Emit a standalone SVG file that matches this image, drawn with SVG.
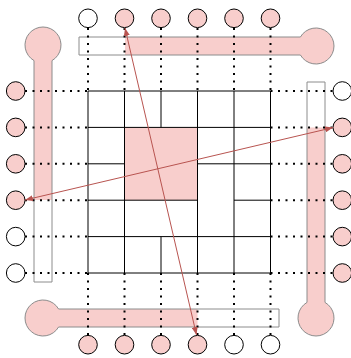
<svg xmlns="http://www.w3.org/2000/svg" width="351" height="358" viewBox="0 0 351 358">
<defs>
<style>
.band{fill:#ffffff;stroke:none}
.pk{fill:#f8cecc;stroke:none}
.ol{fill:none;stroke:#8c8c8c;stroke-width:1}
.g{stroke:#000;stroke-width:1;fill:none}
.dot{stroke:#000;stroke-width:2;stroke-dasharray:2 5.5;fill:none}
.cw{fill:#ffffff;stroke:#000;stroke-width:1}
.cp{fill:#f8cecc;stroke:#000;stroke-width:1}
.ar{stroke:#b85450;stroke-width:1;fill:none;marker-start:url(#ah);marker-end:url(#ah)}
</style>
<marker id="ah" viewBox="0 0 8 6" refX="8" refY="3" markerWidth="8" markerHeight="6" markerUnits="userSpaceOnUse" orient="auto-start-reverse">
<path d="M0,0 L8,3 L0,6 Z" fill="#b85450"/>
</marker>
</defs>
<g id="bands">
<g id="band-top">
<path class="band" d="M79,37 L300.4,37 A18,18 0 1 1 300.4,55 L79,55 Z"/>
<path class="pk" d="M125,37 L300.4,37 A18,18 0 1 1 300.4,55 L125,55 Z"/>
<path class="ol" d="M79,37 L300.4,37 A18,18 0 1 1 300.4,55 L79,55 Z"/>
</g>
<g id="band-left">
<path class="band" d="M34,282 L34,60.6 A18,18 0 1 1 52,60.6 L52,282 Z"/>
<path class="pk" d="M34,200 L34,60.6 A18,18 0 1 1 52,60.6 L52,200 Z"/>
<path class="ol" d="M34,282 L34,60.6 A18,18 0 1 1 52,60.6 L52,282 Z"/>
</g>
<g id="band-right">
<path class="band" d="M307,82 L307,302.4 A18,18 0 1 0 325,302.4 L325,82 Z"/>
<path class="pk" d="M307,127.4 L307,302.4 A18,18 0 1 0 325,302.4 L325,127.4 Z"/>
<path class="ol" d="M307,82 L307,302.4 A18,18 0 1 0 325,302.4 L325,82 Z"/>
</g>
<g id="band-bottom">
<path class="band" d="M279,309 L58.6,309 A18,18 0 1 0 58.6,327 L279,327 Z"/>
<path class="pk" d="M197.5,309 L58.6,309 A18,18 0 1 0 58.6,327 L197.5,327 Z"/>
<path class="ol" d="M279,309 L58.6,309 A18,18 0 1 0 58.6,327 L279,327 Z"/>
</g>
</g>
<g id="grid">
<rect id="center" class="pk" x="124.5" y="127.4" width="73" height="72.8"/>
<path class="g" d="M88,91 H270.5 M88,127.4 H270.5 M88,163.8 H124.5 M197.5,163.8 H270.5 M88,200.2 H197.5 M234,200.2 H270.5 M88,236.6 H270.5 M88,273 H270.5
M88,91 V273 M124.5,91 V273 M161,91 V127.4 M161,236.6 V273 M197.5,91 V273 M234,91 V273 M270.5,91 V273"/>
</g>
<g id="connectors">
<path class="dot" d="M88,28 V91 M124.5,28 V91 M161,28 V91 M197.5,28 V91 M234,28 V91 M270.5,28 V91"/>
<path class="dot" d="M88,273 V335 M124.5,273 V335 M161,273 V335 M197.5,273 V335 M234,273 V335 M270.5,273 V335"/>
<path class="dot" d="M25,91 H88 M25,127.4 H88 M25,163.8 H88 M25,200.2 H88 M25,236.6 H88 M25,273 H88"/>
<path class="dot" d="M270.5,91 H333 M270.5,127.4 H333 M270.5,163.8 H333 M270.5,200.2 H333 M270.5,236.6 H333 M270.5,273 H333"/>
</g>
<g id="pins-top">
<circle class="cw" cx="88" cy="18.3" r="9.3"/>
<circle class="cp" cx="124.5" cy="18.3" r="9.3"/>
<circle class="cp" cx="161" cy="18.3" r="9.3"/>
<circle class="cp" cx="197.5" cy="18.3" r="9.3"/>
<circle class="cp" cx="234" cy="18.3" r="9.3"/>
<circle class="cp" cx="270.5" cy="18.3" r="9.3"/>
</g>
<g id="pins-left">
<circle class="cp" cx="15.7" cy="91" r="9.3"/>
<circle class="cp" cx="15.7" cy="127.4" r="9.3"/>
<circle class="cp" cx="15.7" cy="163.8" r="9.3"/>
<circle class="cp" cx="15.7" cy="200.2" r="9.3"/>
<circle class="cw" cx="15.7" cy="236.6" r="9.3"/>
<circle class="cw" cx="15.7" cy="273" r="9.3"/>
</g>
<g id="pins-right">
<circle class="cw" cx="342.3" cy="91" r="9.3"/>
<circle class="cp" cx="342.3" cy="127.4" r="9.3"/>
<circle class="cp" cx="342.3" cy="163.8" r="9.3"/>
<circle class="cp" cx="342.3" cy="200.2" r="9.3"/>
<circle class="cp" cx="342.3" cy="236.6" r="9.3"/>
<circle class="cp" cx="342.3" cy="273" r="9.3"/>
</g>
<g id="pins-bottom">
<circle class="cp" cx="88" cy="344.7" r="9.3"/>
<circle class="cp" cx="124.5" cy="344.7" r="9.3"/>
<circle class="cp" cx="161" cy="344.7" r="9.3"/>
<circle class="cp" cx="197.5" cy="344.7" r="9.3"/>
<circle class="cw" cx="234" cy="344.7" r="9.3"/>
<circle class="cw" cx="270.5" cy="344.7" r="9.3"/>
</g>
<g id="arrows">
<path class="ar" d="M125,28 L196.5,335"/>
<path class="ar" d="M25,200 L333,127.6"/>
</g>
</svg>
